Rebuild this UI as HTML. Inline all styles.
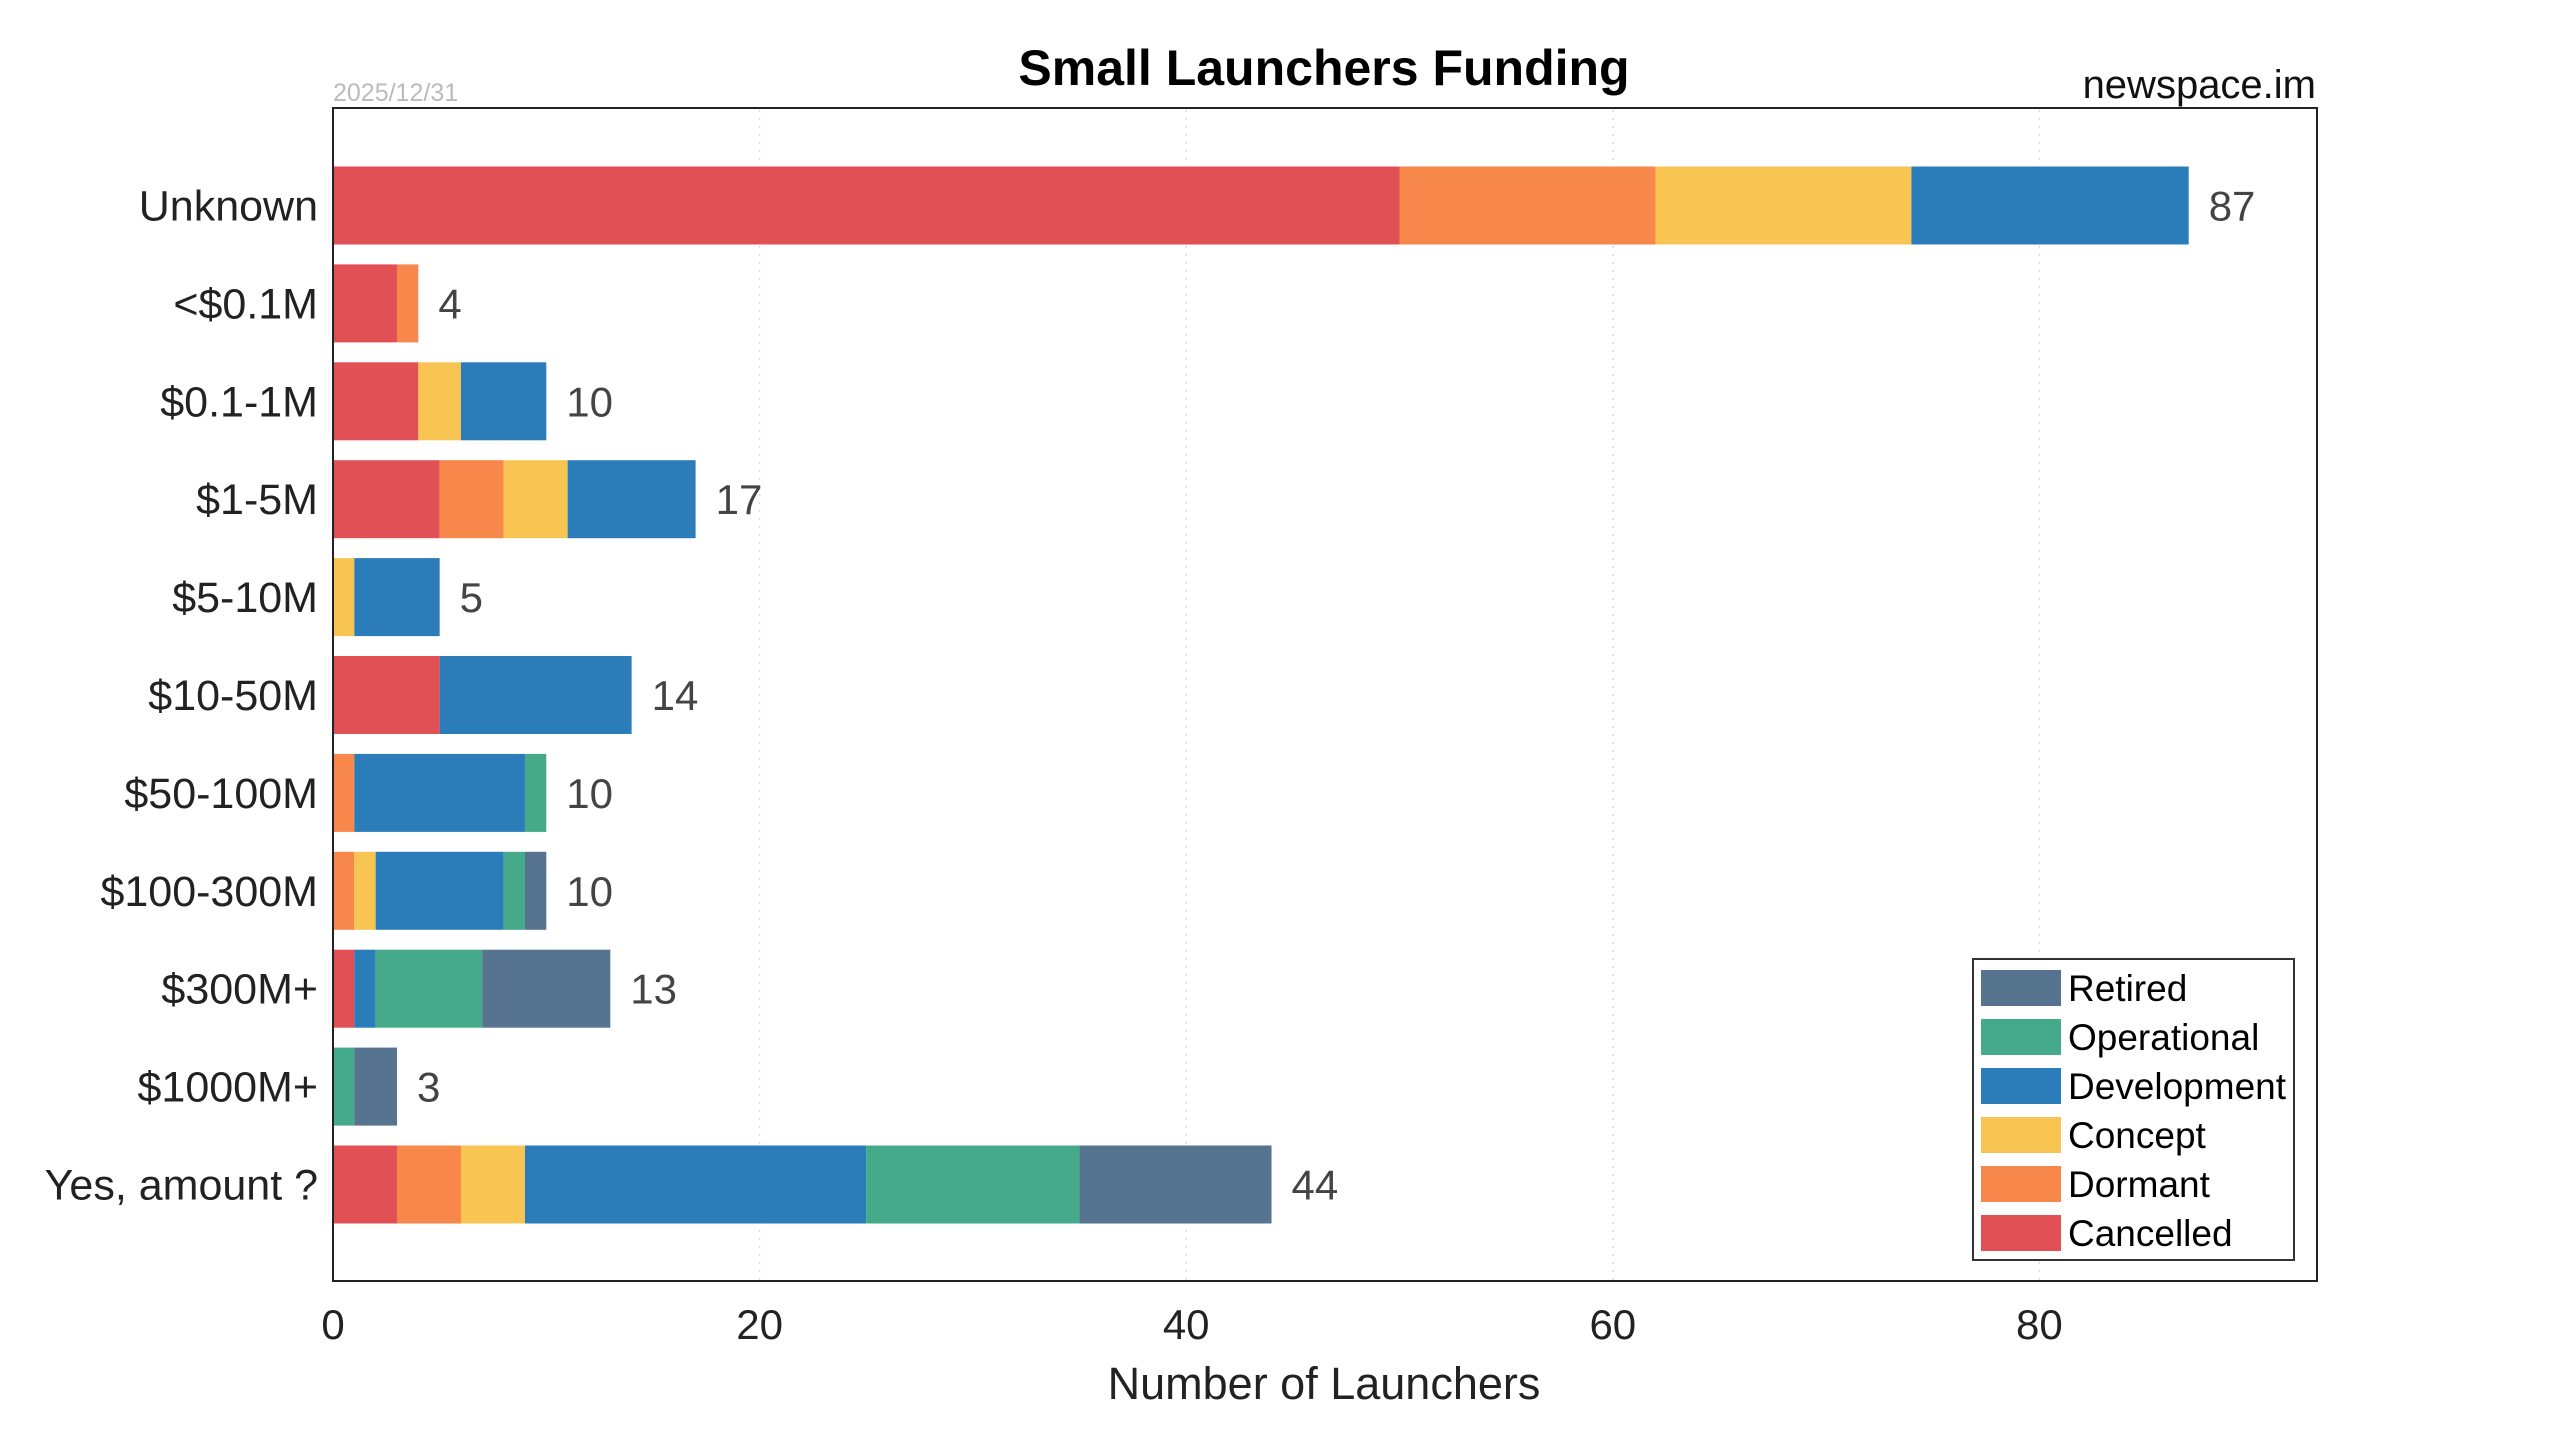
<!DOCTYPE html>
<html><head><meta charset="utf-8"><style>
html,body{margin:0;padding:0;background:#fff;}
svg{display:block;font-family:"Liberation Sans",Arial,sans-serif;}
</style></head><body>
<svg width="2560" height="1440" viewBox="0 0 2560 1440" xmlns="http://www.w3.org/2000/svg">
<rect width="2560" height="1440" fill="#fff"/>
<text x="1324" y="85" text-anchor="middle" font-size="50" font-weight="bold" fill="#000">Small Launchers Funding</text>
<text x="2316" y="98" text-anchor="end" font-size="40" fill="#111">newspace.im</text>
<text x="333" y="101" font-size="25" fill="#bbb">2025/12/31</text>
<g stroke="#ddd" stroke-width="1.5" stroke-dasharray="2,6">
<line x1="759.6" y1="110" x2="759.6" y2="1280"/>
<line x1="1186.2" y1="110" x2="1186.2" y2="1280"/>
<line x1="1612.8" y1="110" x2="1612.8" y2="1280"/>
<line x1="2039.4" y1="110" x2="2039.4" y2="1280"/>
</g>
<g id="bars"></g>
<rect x="333" y="108" width="1984" height="1173" fill="none" stroke="#222" stroke-width="2"/>
<g font-size="42" fill="#222" text-anchor="middle">
<text x="333" y="1339">0</text><text x="759.6" y="1339">20</text><text x="1186.2" y="1339">40</text><text x="1612.8" y="1339">60</text><text x="2039.4" y="1339">80</text>
</g>
<text x="1324" y="1399" text-anchor="middle" font-size="45" fill="#222">Number of Launchers</text>
<g id="yl" font-size="43" fill="#222" text-anchor="end"></g>
<g id="vl" font-size="42" fill="#444"></g>
<rect x="1973" y="959" width="321" height="301" fill="#fff" stroke="#333" stroke-width="2"/>
<g font-size="37" fill="#000">
<rect x="1981" y="970" width="80" height="36" fill="#56738f"/><text x="2068" y="1001">Retired</text>
<rect x="1981" y="1019" width="80" height="36" fill="#45aa8a"/><text x="2068" y="1050">Operational</text>
<rect x="1981" y="1068" width="80" height="36" fill="#2a7db8"/><text x="2068" y="1099">Development</text>
<rect x="1981" y="1117" width="80" height="36" fill="#f8c552"/><text x="2068" y="1148">Concept</text>
<rect x="1981" y="1166" width="80" height="36" fill="#f7874a"/><text x="2068" y="1197">Dormant</text>
<rect x="1981" y="1215" width="80" height="36" fill="#e05055"/><text x="2068" y="1246">Cancelled</text>
</g>
</svg>
<script>
var cols=["#e05055","#f7874a","#f8c552","#2a7db8","#45aa8a","#56738f"];
var data=[["Unknown",[50,12,12,13,0,0]],["<$0.1M",[3,1,0,0,0,0]],["$0.1-1M",[4,0,2,4,0,0]],["$1-5M",[5,3,3,6,0,0]],["$5-10M",[0,0,1,4,0,0]],["$10-50M",[5,0,0,9,0,0]],["$50-100M",[0,1,0,8,1,0]],["$100-300M",[0,1,1,6,1,1]],["$300M+",[1,0,0,1,5,6]],["$1000M+",[0,0,0,0,1,2]],["Yes, amount ?",[3,3,3,16,10,9]]];
var ns="http://www.w3.org/2000/svg",b=document.getElementById("bars"),yl=document.getElementById("yl"),vl=document.getElementById("vl");
var u=21.33,x0=333;
data.forEach(function(d,i){var cy=205.5+i*97.9,x=x0,t=0;
d[1].forEach(function(v,j){if(!v)return;var r=document.createElementNS(ns,"rect");r.setAttribute("x",x);r.setAttribute("y",cy-39);r.setAttribute("width",v*u);r.setAttribute("height",78);r.setAttribute("fill",cols[j]);b.appendChild(r);x+=v*u;t+=v;});
var a=document.createElementNS(ns,"text");a.setAttribute("x",318);a.setAttribute("y",cy+15);a.textContent=d[0];yl.appendChild(a);
var c=document.createElementNS(ns,"text");c.setAttribute("x",x+20);c.setAttribute("y",cy+15);c.textContent=t;vl.appendChild(c);});
</script>
</body></html>
